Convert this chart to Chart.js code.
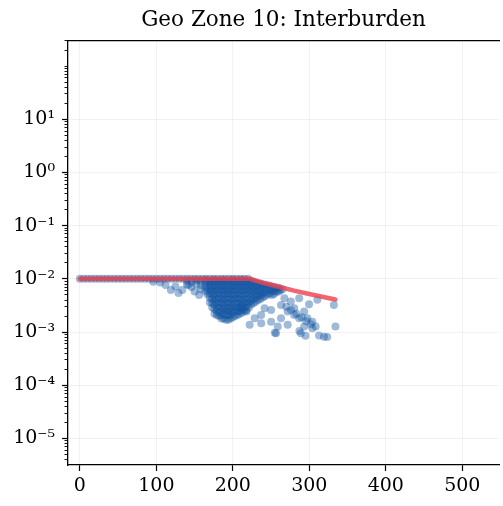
<!DOCTYPE html>
<html>
<head>
<meta charset="utf-8">
<script src="https://cdn.jsdelivr.net/npm/chart.js@4"></script>
<style>
  body { margin: 0; background: #fff; }
  #wrap { width: 503px; height: 506px; }
</style>
</head>
<body>
<div id="wrap"><canvas id="zoneChart"></canvas></div>
<script>
const xTickVals = [0, 100, 200, 300, 400, 500];
const yTickVals = [1e-5, 1e-4, 1e-3, 1e-2, 1e-1, 1, 10];
const yTickLabels = ["10⁻⁵", "10⁻⁴", "10⁻³", "10⁻²", "10⁻¹", "10⁰", "10¹"];

// samples sitting on the 0.01 cap
const capY = 0.01;
const plateauX = [0, 5, 10, 15, 20, 25, 30, 35, 40, 45, 50, 55, 60, 65, 70, 75, 80, 85, 90, 95,
  100, 105, 110, 115, 120, 125, 130, 135, 140, 145, 150, 155, 160, 165, 170, 175, 180, 185,
  190, 195, 200, 205, 210, 215, 220];

// dense body of the cloud, per x column
const blobCols = [
  [140, [0.0092, 0.0078]],
  [146, [0.0088, 0.0070]],
  [152, [0.0094, 0.0080]],
  [158, [0.0090, 0.0076, 0.0064]],
  [164, [0.0095, 0.0082, 0.0070, 0.0058]],
  [170, [0.0090, 0.0076, 0.0064, 0.0053, 0.0044, 0.0036]],
  [176, [0.0095, 0.0082, 0.0069, 0.0058, 0.0048, 0.0040, 0.0033, 0.0027, 0.0022]],
  [182, [0.0090, 0.0076, 0.0064, 0.0053, 0.0044, 0.0036, 0.0030, 0.0024, 0.0020]],
  [188, [0.0095, 0.0082, 0.0069, 0.0058, 0.0048, 0.0040, 0.0033, 0.0027, 0.0022, 0.0018]],
  [194, [0.0090, 0.0076, 0.0064, 0.0053, 0.0044, 0.0036, 0.0030, 0.0025, 0.0021, 0.0017]],
  [200, [0.0095, 0.0082, 0.0069, 0.0058, 0.0048, 0.0040, 0.0033, 0.0027, 0.0023, 0.0019]],
  [206, [0.0090, 0.0076, 0.0064, 0.0053, 0.0044, 0.0036, 0.0030, 0.0025, 0.0021]],
  [212, [0.0095, 0.0082, 0.0069, 0.0058, 0.0048, 0.0040, 0.0033, 0.0027, 0.0023]],
  [218, [0.0090, 0.0076, 0.0064, 0.0053, 0.0044, 0.0036, 0.0031, 0.0026]],
  [224, [0.0092, 0.0080, 0.0068, 0.0057, 0.0047, 0.0039, 0.0033]],
  [230, [0.0085, 0.0073, 0.0062, 0.0052, 0.0044, 0.0037]],
  [236, [0.0082, 0.0070, 0.0059, 0.0050, 0.0042]],
  [242, [0.0078, 0.0066, 0.0056, 0.0047]],
  [248, [0.0075, 0.0063, 0.0053]],
  [254, [0.0071, 0.0060, 0.0052]],
  [260, [0.0068, 0.0058]],
  [265, [0.0064]],
  // in-between columns
  [167, [0.0086, 0.0072, 0.0061, 0.0051]],
  [173, [0.0086, 0.0072, 0.0061, 0.0051, 0.0042, 0.0035, 0.0029]],
  [179, [0.0086, 0.0072, 0.0061, 0.0051, 0.0042, 0.0035, 0.0029, 0.0025, 0.0021]],
  [185, [0.0086, 0.0072, 0.0061, 0.0051, 0.0042, 0.0035, 0.0029, 0.0025, 0.0021, 0.0018]],
  [191, [0.0086, 0.0072, 0.0061, 0.0051, 0.0042, 0.0035, 0.0029, 0.0025, 0.0021, 0.0017]],
  [197, [0.0086, 0.0072, 0.0061, 0.0051, 0.0042, 0.0035, 0.0029, 0.0025, 0.0021, 0.0018]],
  [203, [0.0086, 0.0072, 0.0061, 0.0051, 0.0042, 0.0035, 0.0029, 0.0025, 0.0020]],
  [209, [0.0086, 0.0072, 0.0061, 0.0051, 0.0042, 0.0035, 0.0029, 0.0025, 0.0022]],
  [215, [0.0086, 0.0072, 0.0061, 0.0051, 0.0042, 0.0035, 0.0029, 0.0025]],
  [221, [0.0086, 0.0072, 0.0061, 0.0051, 0.0042, 0.0035, 0.0029]],
  [227, [0.0086, 0.0072, 0.0061, 0.0051, 0.0042, 0.0035]],
  [233, [0.0080, 0.0068, 0.0057, 0.0048, 0.0040]],
  [239, [0.0076, 0.0064, 0.0053, 0.0045]],
  [245, [0.0072, 0.0061, 0.0051]],
  [251, [0.0069, 0.0058, 0.0050]],
  [257, [0.0066, 0.0057]],
  [262, [0.0061]],
];

// loose points around the cloud
const loosePts = [
  [96, 0.0088], [105, 0.0085], [112, 0.0077], [119, 0.0062], [125, 0.0072], [129, 0.0054],
  [134, 0.0062], [142, 0.0077], [150, 0.0058], [156, 0.0050],
  [286.8, 0.00434], [299.7, 0.00334], [310.5, 0.00403], [332.1, 0.00324], [334.2, 0.00127],
  [319.2, 0.00082], [312.7, 0.00086], [304, 0.00118], [293.3, 0.00127], [288.9, 0.00095],
  [271.7, 0.00137], [263, 0.00182], [256.5, 0.00095], [250, 0.00157], [237, 0.0021],
  [228.6, 0.00182], [222, 0.00137], [217.7, 0.00243], [211.3, 0.00302], [241.5, 0.00281],
  [250, 0.00261], [263, 0.00324], [271.7, 0.00243], [280.3, 0.0021], [286.8, 0.00182],
  [297.5, 0.00182], [304, 0.00157], [267.4, 0.00434], [275.9, 0.00374], [280.3, 0.00281],
  [293.3, 0.00243], [308.3, 0.00127], [258.7, 0.00127], [237.1, 0.00147], [254.9, 0.00097],
  [323.4, 0.00081], [287, 0.00105], [295, 0.00085],
  [270, 0.0030], [276, 0.0026], [283, 0.0022], [290, 0.0019], [296, 0.0016], [302, 0.0014],
];

// fitted limit curve
const curveX = [0, 222, 240, 260, 280, 300, 320, 334];
const curveY = [0.01, 0.01, 0.0084, 0.0071, 0.0060, 0.0052, 0.0045, 0.0041];

const serif = "'DejaVu Serif', serif";

const scatterData = plateauX.map((x) => ({ x, y: capY }));
blobCols.forEach(([x, ys]) => ys.forEach((y) => scatterData.push({ x, y })));
loosePts.forEach(([x, y]) => scatterData.push({ x, y }));

const curveData = curveX.map((x, i) => ({ x, y: curveY[i] }));

// minor tick positions for the log axis
const minorTicks = [];
for (let e = -6; e <= 2; e++) {
  for (let m = 1; m <= 9; m++) {
    const v = m * Math.pow(10, e);
    if (m === 1 && e >= -5 && e <= 1) continue;
    if (v >= 3.16e-6 && v <= 300) minorTicks.push({ value: v });
  }
}

new Chart(document.getElementById("zoneChart"), {
  type: "scatter",
  data: {
    datasets: [
      {
        label: "limit",
        data: curveData,
        showLine: true,
        borderColor: "rgba(236,62,74,0.8)",
        borderWidth: 4.5,
        borderCapStyle: "round",
        pointRadius: 0,
        order: 0,
      },
      {
        label: "samples",
        data: scatterData,
        backgroundColor: "rgba(14,82,160,0.4)",
        borderWidth: 0,
        pointRadius: 4,
        order: 1,
      },
    ],
  },
  options: {
    responsive: true,
    maintainAspectRatio: false,
    animation: false,
    layout: { padding: 0 },
    plugins: {
      legend: { display: false },
      tooltip: { enabled: false },
      title: {
        display: true,
        text: "Geo Zone 10: Interburden",
        fullSize: false,
        color: "#000",
        font: { family: serif, size: 21.5, weight: "normal", lineHeight: 1.2 },
        padding: { top: 8, bottom: 7 },
      },
    },
    scales: {
      x: {
        type: "linear",
        position: "bottom",
        min: -15.5,
        max: 548,
        afterBuildTicks: (s) => { s.ticks = xTickVals.map((v) => ({ value: v })); },
        afterFit: (s) => { s.height = 41; },
        grid: { color: "rgba(0,0,0,0.05)", tickColor: "#000", tickLength: 6, tickWidth: 1.2 },
        border: { color: "#000", width: 1.3 },
        ticks: { color: "#000", font: { family: serif, size: 19 }, padding: 4, maxRotation: 0 },
      },
      xTop: {
        type: "linear",
        position: "top",
        min: -15.5,
        max: 548,
        afterFit: (s) => { s.height = 0; },
        grid: { display: false, drawTicks: false },
        border: { color: "#000", width: 1.3 },
        ticks: { display: false },
      },
      y: {
        type: "logarithmic",
        position: "left",
        weight: 1,
        min: 3.16e-6,
        max: 300,
        afterBuildTicks: (s) => { s.ticks = yTickVals.map((v) => ({ value: v })); },
        afterFit: (s) => { s.width = 68; },
        grid: { color: "rgba(0,0,0,0.05)", tickColor: "#000", tickLength: 6, tickWidth: 1.2 },
        border: { color: "#000", width: 1.3 },
        ticks: {
          color: "#000",
          font: { family: serif, size: 19 },
          padding: 7,
          callback: (v, i) => yTickLabels[i],
        },
      },
      yMinor: {
        type: "logarithmic",
        position: "left",
        weight: 0,
        min: 3.16e-6,
        max: 300,
        afterBuildTicks: (s) => { s.ticks = minorTicks.slice(); },
        afterFit: (s) => { s.width = 0; },
        grid: { drawOnChartArea: false, tickColor: "#000", tickLength: 3.5, tickWidth: 0.9 },
        border: { display: false },
        ticks: { display: false },
      },
    },
  },
});
</script>
</body>
</html>
